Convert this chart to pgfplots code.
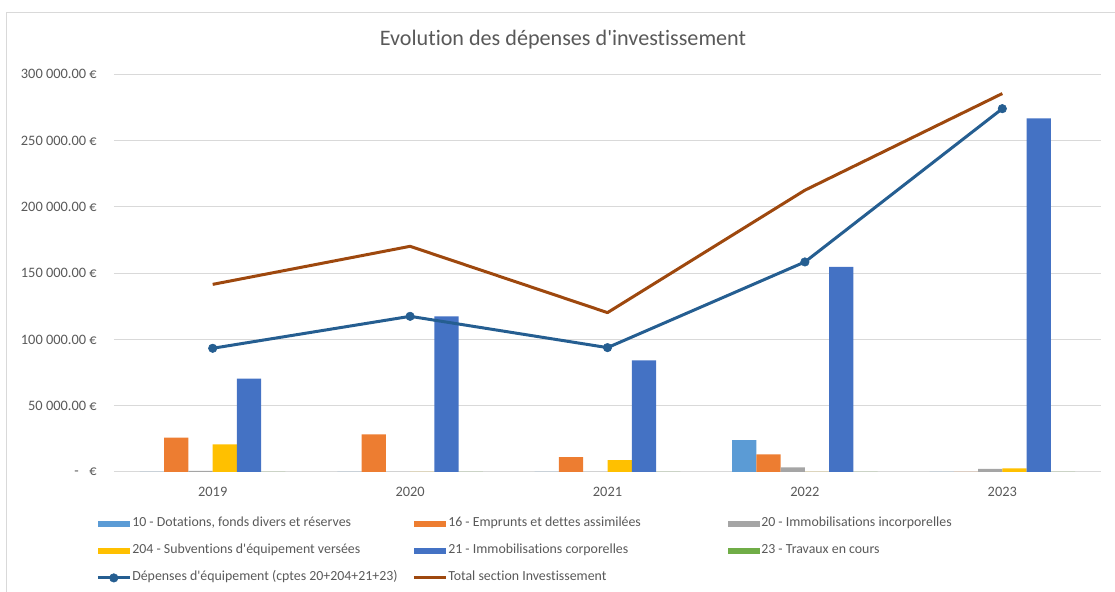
\documentclass[border=0pt]{standalone}
\usepackage{pgfplots}
\pgfplotsset{compat=1.18}
\usepackage{fontspec}
\setmainfont{Carlito}[Ligatures={NoCommon}]
\definecolor{c10}{HTML}{5B9BD5}
\definecolor{c16}{HTML}{ED7D31}
\definecolor{c20}{HTML}{A5A5A5}
\definecolor{c204}{HTML}{FFC000}
\definecolor{c21}{HTML}{4472C4}
\definecolor{c23}{HTML}{70AD47}
\definecolor{cdep}{HTML}{255E91}
\definecolor{ctot}{HTML}{9E480E}
\definecolor{gridc}{HTML}{D9D9D9}
\definecolor{txtc}{HTML}{595959}
\pgfplotsset{
  barleg/.style={legend image code/.code={\fill[##1] (0pt,-2.4pt) rectangle (24pt,2.4pt);}},
  markleg/.style={legend image code/.code={\draw[mark repeat=2, mark phase=2, ##1] plot coordinates {(0pt,0pt) (12pt,0pt) (24pt,0pt)};}},
  lineleg/.style={legend image code/.code={\draw[##1] (0pt,0pt) -- (24pt,0pt);}},
}
\newcommand{\legtxt}[1]{\makebox[210pt][l]{#1}}
\begin{document}
\begin{tikzpicture}
\begin{axis}[
  name=ax,
  scale only axis, width=740.25pt, height=298.35pt,
  xmin=-0.5, xmax=4.5, ymin=0, ymax=300000,
  xtick={0,1,2,3,4}, xticklabels={2019,2020,2021,2022,2023},
  ytick={0,50000,100000,150000,200000,250000,300000},
  yticklabels={-\hspace{8pt}€, 50 000.00 €, 100 000.00 €, 150 000.00 €, 200 000.00 €, 250 000.00 €, 300 000.00 €},
  scaled y ticks=false,
  major tick length=0pt,
  axis line style={draw=none},
  ymajorgrids, grid style={gridc, line width=0.75pt},
  tick label style={txtc, font=\fontsize{10.8}{13}\selectfont},
  yticklabel style={anchor=east, inner sep=0pt, xshift=-12.75pt},
  xticklabel style={anchor=base, inner sep=0pt, yshift=-18.2pt},
  legend columns=3,
  legend cell align=left,
  legend style={at={(-0.0182,-0.1156)}, anchor=north west, draw=none, fill=none, inner sep=0pt,
    font=\fontsize{10.4}{12.5}\selectfont, text=txtc,
    row sep=11.75pt,
    /tikz/every odd column/.append style={column sep=0.75pt},
    nodes={inner sep=0pt, text height=6.5pt, text depth=2pt},
  },
  every axis plot/.append style={line join=round},
]
\coordinate (O) at (rel axis cs:0,0);
\addplot[ybar, bar width=18.2pt, bar shift=-45.5pt, fill=c10, draw=none, barleg] coordinates {(0,0) (1,0) (2,0) (3,24100) (4,0)};
\addlegendentry{\legtxt{10 - Dotations, fonds divers et réserves}}
\addplot[ybar, bar width=18.2pt, bar shift=-27.3pt, fill=c16, draw=none, barleg] coordinates {(0,26000) (1,28400) (2,11300) (3,13300) (4,0)};
\addlegendentry{\legtxt{16 - Emprunts et dettes assimilées}}
\addplot[ybar, bar width=18.2pt, bar shift=-9.1pt, fill=c20, draw=none, barleg] coordinates {(0,800) (1,0) (2,0) (3,3500) (4,2300)};
\addlegendentry{\legtxt{20 - Immobilisations incorporelles}}
\addplot[ybar, bar width=18.2pt, bar shift=9.1pt, fill=c204, draw=none, barleg] coordinates {(0,20900) (1,0) (2,9000) (3,0) (4,2800)};
\addlegendentry{\legtxt{204 - Subventions d\textquotesingle équipement versées}}
\addplot[ybar, bar width=18.2pt, bar shift=27.3pt, fill=c21, draw=none, barleg] coordinates {(0,70400) (1,117400) (2,84200) (3,154600) (4,266700)};
\addlegendentry{\legtxt{21 - Immobilisations corporelles}}
\addplot[ybar, bar width=18.2pt, bar shift=45.5pt, fill=c23, draw=none, barleg] coordinates {(0,0) (1,0) (2,0) (3,0) (4,0)};
\addlegendentry{\legtxt{23 - Travaux en cours}}
\addplot[sharp plot, cdep, line width=2.25pt, mark=*, mark size=3.2pt, mark options={solid, fill=cdep, draw=cdep, line width=0.4pt}, markleg]
  coordinates {(0,93300) (1,117400) (2,93800) (3,158400) (4,274000)};
\addlegendentry{\legtxt{Dépenses d\textquotesingle équipement (cptes 20+204+21+23)}}
\addplot[sharp plot, ctot, line width=2.25pt, no marks, lineleg]
  coordinates {(0,141500) (1,170200) (2,120200) (3,212500) (4,285400)};
\addlegendentry{\legtxt{Total section Investissement}}
\end{axis}
\pgfresetboundingbox
\path[use as bounding box] ([shift={(-85.5pt,-90pt)}]O) rectangle ([shift={(750.75pt,354pt)}]O);
\draw[gridc, line width=0.75pt] ([shift={(-80.25pt,-120pt)}]O) -- ([shift={(-80.25pt,344.25pt)}]O) -- ([shift={(800pt,344.25pt)}]O);
\node[txtc, font=\fontsize{16.6}{19}\selectfont] at ([shift={(336.75pt,324pt)}]O) {Evolution des dépenses d\textquotesingle investissement};
\end{tikzpicture}
\end{document}
